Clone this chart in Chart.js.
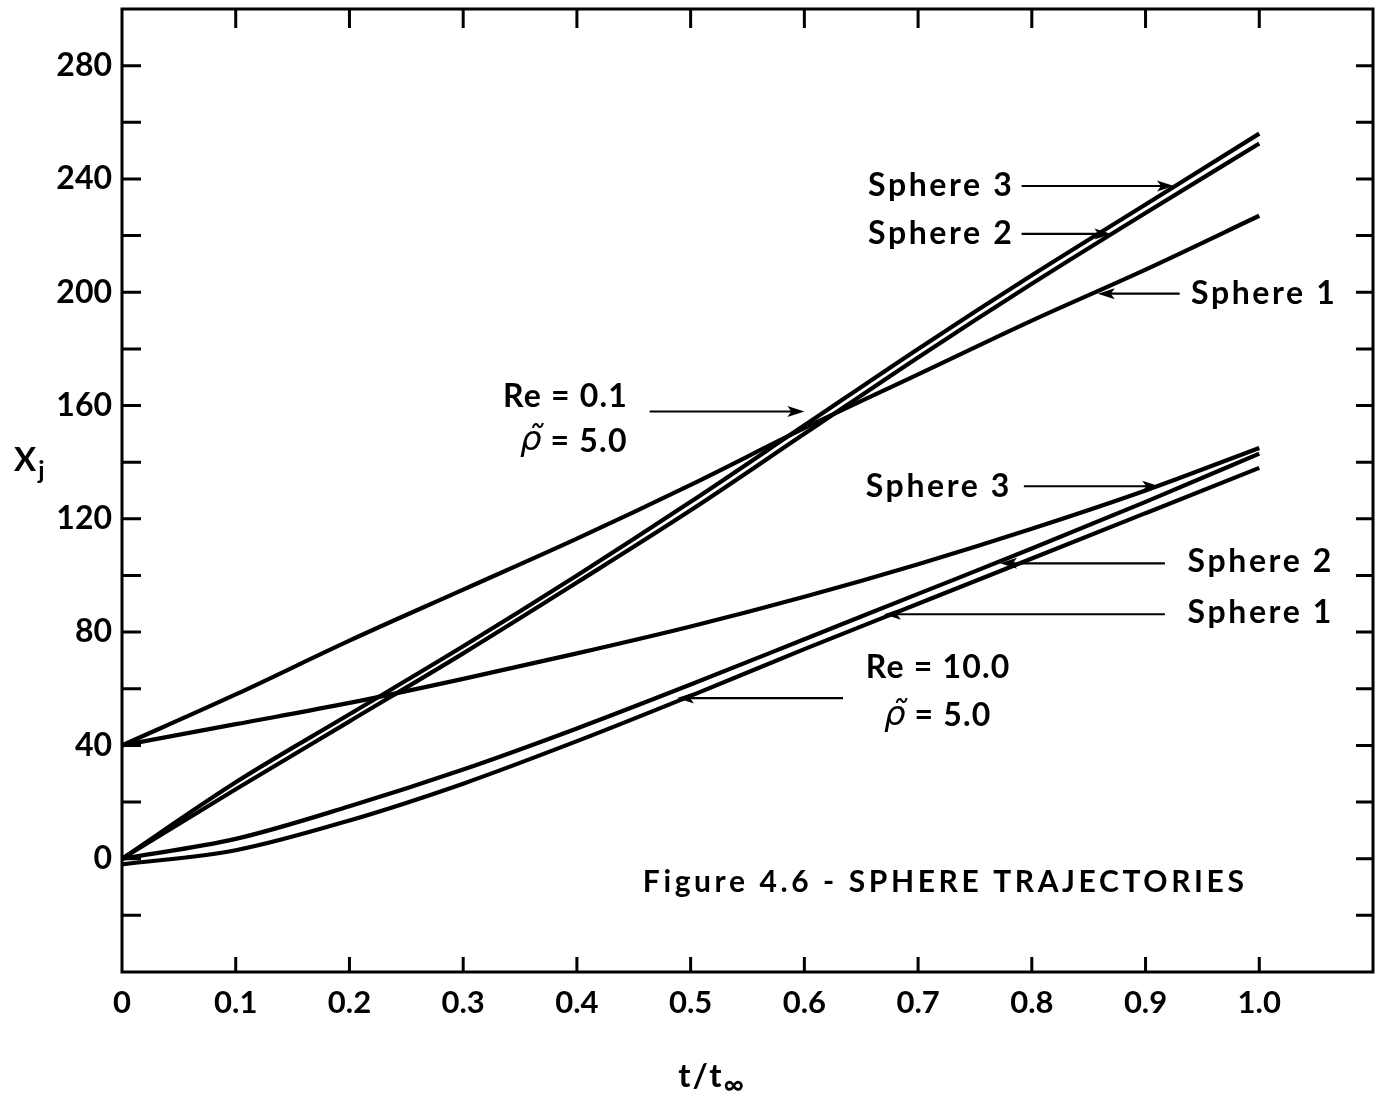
<!DOCTYPE html>
<html>
<head>
<meta charset="utf-8">
<title>Sphere trajectories</title>
<script src="https://cdn.jsdelivr.net/npm/chart.js@4.4.1/dist/chart.umd.min.js"></script>
<style>
  html, body { margin: 0; padding: 0; background: #fff; }
  #wrap { width: 1382px; height: 1095px; position: relative; }
</style>
</head>
<body>
<div id="wrap"><canvas id="c" width="1382" height="1095"></canvas></div>
<script>
// Dimensionless time samples t / t_inf
const tValues = [0, 0.1, 0.2, 0.3, 0.4, 0.5, 0.6, 0.7, 0.8, 0.9, 1.0];

// Re = 0.1, rho~ = 5.0
const re01Sphere1 = [40, 58, 77, 95, 113, 132, 152, 171, 190, 208, 227];
const re01Sphere2 = [0, 24.5, 48.5, 72.5, 97.5, 123, 150, 177, 203, 228, 252.5];
const re01Sphere3 = [0, 27, 51, 75, 100, 126, 153, 180, 206, 231, 256];

// Re = 10.0, rho~ = 5.0
const re10Sphere1 = [-2, 3, 13.5, 26.5, 41.5, 57.5, 74, 90, 106, 122, 138];
const re10Sphere2 = [0, 7, 18.5, 31.5, 46, 61.5, 77.5, 93.5, 109.5, 126, 143];
const re10Sphere3 = [40, 47.5, 55, 63.5, 72.5, 82, 92.5, 104, 116.5, 130, 145];

// Tick labels
const xTickLabels = ['0', '0.1', '0.2', '0.3', '0.4', '0.5', '0.6', '0.7', '0.8', '0.9', '1.0'];
const yTickLabels = [0, 40, 80, 120, 160, 200, 240, 280];

const FAMILY = 'Lato, "Open Sans", "DejaVu Sans", sans-serif';
const fnt = (size, weight = 'bold', style = 'normal', family = FAMILY) =>
  `${style} ${weight} ${size}px ${family}`;

// Callout labels, placed in data units (t, X)
const labelNotes = [
  { runs: [['Sphere 3']], at: [0.656, 237.5], spacing: 2.6 },
  { runs: [['Sphere 2']], at: [0.656, 220.6], spacing: 2.6 },
  { runs: [['Sphere 1']], at: [0.940, 199.5], spacing: 2.6 },
  { runs: [['Re = 0.1']], at: [0.335, 163.2], spacing: 1.2 },
  { runs: [['ρ̃', 'rho'], [' = 5.0']], at: [0.350, 147.3], spacing: 1.2 },
  { runs: [['Sphere 3']], at: [0.654, 131.5], spacing: 2.6 },
  { runs: [['Sphere 2']], at: [0.937, 104.7], spacing: 2.6 },
  { runs: [['Sphere 1']], at: [0.937, 86.7], spacing: 2.6 },
  { runs: [['Re = 10.0']], at: [0.654, 67.3], spacing: 1.2 },
  { runs: [['ρ̃', 'rho'], [' = 5.0']], at: [0.670, 50.4], spacing: 1.2 }
];

// Pointer arrows: tail -> head, in data units
const arrowNotes = [
  { from: [0.791, 237.5], to: [0.925, 237.5] },
  { from: [0.791, 220.6], to: [0.870, 220.6] },
  { from: [0.930, 199.5], to: [0.858, 199.5] },
  { from: [0.464, 157.9], to: [0.600, 157.9] },
  { from: [0.793, 131.5], to: [0.912, 131.5] },
  { from: [0.917, 104.3], to: [0.772, 104.3] },
  { from: [0.917, 86.3], to: [0.670, 86.3] },
  { from: [0.634, 56.7], to: [0.488, 56.7] }
];

const captionText = 'Figure 4.6 - SPHERE TRAJECTORIES';
const captionAt = [0.458, -8.5];

function series(values) {
  return {
    data: tValues.map((t, i) => ({ x: t, y: values[i] })),
    borderColor: '#000',
    borderWidth: 4.2,
    pointRadius: 0,
    fill: false,
    cubicInterpolationMode: 'monotone'
  };
}

function drawRuns(ctx, x, y, runs, size, spacing) {
  let cx = x;
  for (const [text, kind] of runs) {
    if (kind === 'rho') {
      ctx.font = fnt(size + 2, 'normal', 'italic', '"DejaVu Sans", "Noto Sans", sans-serif');
      ctx.letterSpacing = '0px';
    } else {
      ctx.font = fnt(size);
      ctx.letterSpacing = spacing + 'px';
    }
    ctx.fillText(text, cx, y);
    cx += ctx.measureText(text).width;
  }
  ctx.letterSpacing = '0px';
}

function drawArrow(ctx, x0, y0, x1, y1) {
  const dir = Math.sign(x1 - x0);
  ctx.lineWidth = 2.2;
  ctx.beginPath();
  ctx.moveTo(x0, y0);
  ctx.lineTo(x1 - dir * 6, y1);
  ctx.stroke();
  ctx.beginPath();
  ctx.moveTo(x1, y1);
  ctx.lineTo(x1 - dir * 17, y1 - 5.5);
  ctx.lineTo(x1 - dir * 13, y1);
  ctx.lineTo(x1 - dir * 17, y1 + 5.5);
  ctx.closePath();
  ctx.fill();
}

const framePlugin = {
  id: 'frame',
  afterDraw(chart) {
    const { ctx, chartArea: a, scales: { x, y } } = chart;
    ctx.save();
    ctx.strokeStyle = '#000';
    ctx.fillStyle = '#000';

    // plot frame
    ctx.lineWidth = 3;
    ctx.strokeRect(a.left, a.top, a.right - a.left, a.bottom - a.top);

    // inward tick marks on all four sides
    ctx.lineWidth = 3;
    ctx.beginPath();
    for (const tk of y.ticks) {
      if (tk.value <= y.min || tk.value >= y.max) continue;
      const py = y.getPixelForValue(tk.value);
      ctx.moveTo(a.left, py); ctx.lineTo(a.left + 19, py);
      ctx.moveTo(a.right, py); ctx.lineTo(a.right - 17, py);
    }
    for (const tk of x.ticks) {
      if (tk.value <= x.min + 1e-9 || tk.value >= x.max - 1e-9) continue;
      const px = x.getPixelForValue(tk.value);
      ctx.moveTo(px, a.bottom); ctx.lineTo(px, a.bottom - 15);
      ctx.moveTo(px, a.top); ctx.lineTo(px, a.top + 19);
    }
    ctx.stroke();

    // axis titles
    ctx.textBaseline = 'alphabetic';
    ctx.textAlign = 'left';
    ctx.font = fnt(33);
    ctx.letterSpacing = '2px';
    const xt = 't/t';
    const xtw = ctx.measureText(xt).width;
    ctx.letterSpacing = '0px';
    ctx.font = fnt(28);
    const infw = ctx.measureText('∞').width;
    const sx = x.getPixelForValue(0.518) - (xtw + infw) / 2;
    ctx.font = fnt(33);
    ctx.letterSpacing = '2px';
    ctx.fillText(xt, sx, 1087);
    ctx.letterSpacing = '0px';
    ctx.font = fnt(28);
    ctx.fillText('∞', sx + xtw, 1094);

    ctx.font = fnt(33);
    ctx.fillText('X', 14, 471);
    const Xw = ctx.measureText('X').width;
    ctx.font = fnt(25);
    ctx.fillText('j', 14 + Xw + 2, 479);

    // callout labels
    ctx.textBaseline = 'middle';
    for (const n of labelNotes) {
      drawRuns(ctx, x.getPixelForValue(n.at[0]), y.getPixelForValue(n.at[1]), n.runs, 32, n.spacing);
    }

    // callout arrows
    for (const n of arrowNotes) {
      drawArrow(ctx,
        x.getPixelForValue(n.from[0]), y.getPixelForValue(n.from[1]),
        x.getPixelForValue(n.to[0]), y.getPixelForValue(n.to[1]));
    }

    // figure caption inside the plot
    ctx.font = fnt(30);
    ctx.letterSpacing = '3.6px';
    ctx.fillText(captionText, x.getPixelForValue(captionAt[0]), y.getPixelForValue(captionAt[1]));
    ctx.letterSpacing = '0px';

    ctx.restore();
  }
};

new Chart(document.getElementById('c'), {
  type: 'line',
  data: {
    datasets: [
      series(re01Sphere1), series(re01Sphere2), series(re01Sphere3),
      series(re10Sphere1), series(re10Sphere2), series(re10Sphere3)
    ]
  },
  options: {
    responsive: false,
    animation: false,
    devicePixelRatio: 1,
    layout: { padding: { top: 9, right: 9, left: 0, bottom: 0 } },
    plugins: { legend: { display: false }, tooltip: { enabled: false }, title: { display: false } },
    scales: {
      x: {
        type: 'linear',
        min: 0,
        max: 1.1,
        afterFit(s) { s.height = 123; s.paddingLeft = 0; s.paddingRight = 0; },
        border: { display: false },
        grid: { display: false, drawTicks: false },
        ticks: {
          stepSize: 0.1,
          autoSkip: false,
          maxRotation: 0,
          padding: 12,
          color: '#000',
          font: { family: FAMILY, size: 31, weight: 'bold' },
          callback(v) {
            const k = Math.round(v * 10);
            return k <= 10 ? xTickLabels[k] : '';
          }
        }
      },
      y: {
        type: 'linear',
        min: -40,
        max: 300,
        afterFit(s) { s.width = 122; s.paddingTop = 0; s.paddingBottom = 0; },
        border: { display: false },
        grid: { display: false, drawTicks: false },
        ticks: {
          stepSize: 20,
          autoSkip: false,
          padding: 10,
          color: '#000',
          font: { family: FAMILY, size: 32, weight: 'bold' },
          callback(v) {
            return yTickLabels.includes(v) ? String(v) : '';
          }
        }
      }
    }
  },
  plugins: [framePlugin]
});
</script>
</body>
</html>
